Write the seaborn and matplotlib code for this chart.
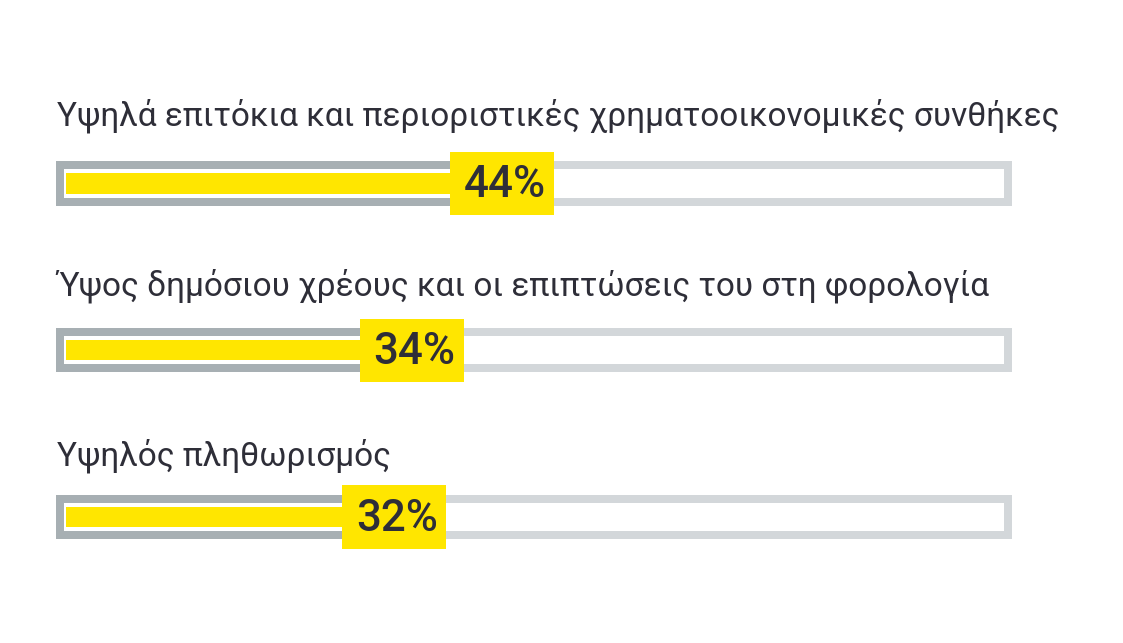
import matplotlib
matplotlib.use("Agg")
import matplotlib.pyplot as plt
import seaborn as sns
import pandas as pd
from matplotlib.patches import Rectangle

# data
labels = [
    "Υψηλά επιτόκια και περιοριστικές χρηματοοικονομικές συνθήκες",
    "Ύψος δημόσιου χρέους και οι επιπτώσεις του στη φορολογία",
    "Υψηλός πληθωρισμός",
]
values = [44, 34, 32]

YELLOW = "#ffe600"
DARK_GRAY = "#a7afb3"
LIGHT_GRAY = "#d3d7da"
TEXT = "#2e2e38"

sns.set_theme(style="white")
plt.rcParams["font.family"] = ["Roboto", "DejaVu Sans"]

fig = plt.figure(figsize=(11.23, 6.43), dpi=100)
ax = fig.add_axes([0, 0, 1, 1])

df = pd.DataFrame({"label": labels, "value": values})

# scale: 9 px per percent, 0% at x=106 px; rows 166.75 px apart
ax.set_xlim(-106 / 9, (1123 - 106) / 9)
ax.set_ylim((643 - 183.5) / 166.75, -183.5 / 166.75)

track_left, track_right = -5.1, 100.2
track_h = 0.216
pad = 4.44  # yellow starts a little inside the track

# light track (full)
for i in range(len(labels)):
    ax.add_patch(Rectangle((track_left, i - track_h / 2), track_right - track_left, track_h,
                           fill=False, edgecolor=LIGHT_GRAY, linewidth=5.76,
                           joinstyle="miter", zorder=1))

# yellow bars
sns.barplot(data=df, x="value", y="label", orient="h", color=YELLOW,
            width=0.12, saturation=1, ax=ax, zorder=3)
for p in ax.patches:
    if isinstance(p, Rectangle) and p.get_facecolor()[0] > 0.9 and p.get_height() < 0.2:
        p.set_x(-pad)
        p.set_width(p.get_width() + pad)
        p.set_edgecolor("none")

ax.set_xlim(-106 / 9, (1123 - 106) / 9)
ax.set_ylim((643 - 183.5) / 166.75, -183.5 / 166.75)

for i, (lab, v) in enumerate(zip(labels, values)):
    top, bot = i - track_h / 2, i + track_h / 2
    # dark part of the track up to the value
    ax.plot([v, track_left, track_left, v], [top, top, bot, bot], color=DARK_GRAY,
            linewidth=5.76, solid_joinstyle="miter", solid_capstyle="butt", zorder=2)
    # value box
    bw, bh = 11.56, 0.378
    ax.add_patch(Rectangle((v - bw / 2, i - bh / 2), bw, bh, facecolor=YELLOW,
                           edgecolor="none", zorder=4))
    ax.text(v + 0.3, i + 0.01, f"{v}%", ha="center", va="center", fontsize=31.5,
            fontweight="medium", color=TEXT, zorder=5)
    # category label above the track
    ty = (126 + 170 * i - 183.5) / 166.75
    ax.text(-5.45, ty, lab, ha="left", va="baseline", fontsize=24,
            color=TEXT, zorder=5)

ax.set_axis_off()
fig.savefig("out.png", dpi=100, facecolor="white")
